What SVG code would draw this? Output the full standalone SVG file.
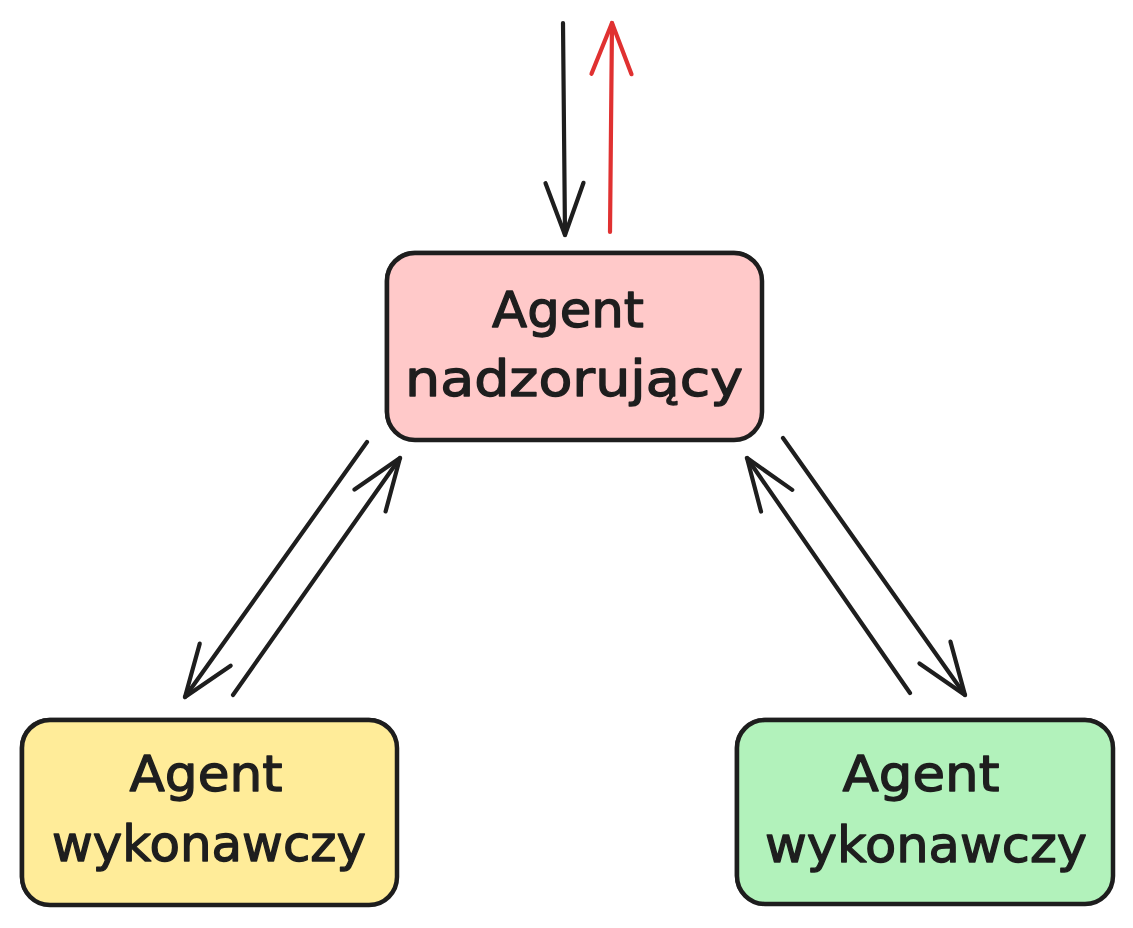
<svg xmlns="http://www.w3.org/2000/svg" width="1133" height="928" viewBox="0 0 1133 928">
  <defs>
    <style>
      .box { stroke: #1e1e1e; stroke-width: 4.5; }
      .box2 { fill: none; stroke: #1e1e1e; stroke-width: 1.6; opacity: 0.8; }
      .lbl { font-family: "DejaVu Sans", "Liberation Sans", sans-serif; font-size: 50px; fill: #1e1e1e; stroke: #1e1e1e; stroke-width: 1.3; stroke-linejoin: round; text-anchor: middle; }
      .conn { fill: none; stroke-width: 4.2; stroke-linecap: round; stroke-linejoin: round; }
      .blk { stroke: #1e1e1e; }
      .red { stroke: #e03131; }
    </style>
    <marker id="ahBlack" markerUnits="userSpaceOnUse" viewBox="-60 -26 66 52" markerWidth="66" markerHeight="52" refX="0" refY="0" orient="auto" overflow="visible">
      <path d="M-52,-19 L0,0 L-52,19" fill="none" stroke="#1e1e1e" stroke-width="4.2" stroke-linecap="round" stroke-linejoin="round"/>
    </marker>
    <marker id="ahRed" markerUnits="userSpaceOnUse" viewBox="-60 -26 66 52" markerWidth="66" markerHeight="52" refX="0" refY="0" orient="auto" overflow="visible">
      <path d="M-51,-20 L0,0 L-51,20" fill="none" stroke="#e03131" stroke-width="4.2" stroke-linecap="round" stroke-linejoin="round"/>
    </marker>
  </defs>

  <rect x="0" y="0" width="1133" height="928" fill="#ffffff"/>

  <g id="connectors">
    <path class="conn blk" d="M563,23 L565,235" marker-end="url(#ahBlack)"/>
    <path class="conn red" d="M610,232 L612,23" marker-end="url(#ahRed)"/>
    <path class="conn blk" d="M367,442 L185,697" marker-end="url(#ahBlack)"/>
    <path class="conn blk" d="M233,695 L400,458" marker-end="url(#ahBlack)"/>
    <path class="conn blk" d="M910,693 L747,458" marker-end="url(#ahBlack)"/>
    <path class="conn blk" d="M783,438 L965,695" marker-end="url(#ahBlack)"/>
  </g>

  <g id="node-supervisor">
    <rect class="box" x="387" y="253" width="375" height="187" rx="28" ry="28" fill="#ffc9c9"/>
    <rect class="box2" x="385.5" y="251.5" width="377" height="189" rx="29" ry="29"/>
    <text class="lbl" x="568" y="327" textLength="152" lengthAdjust="spacingAndGlyphs">Agent</text>
    <text class="lbl" x="574" y="396" textLength="338" lengthAdjust="spacingAndGlyphs">nadzorujący</text>
  </g>

  <g id="node-worker-left">
    <rect class="box" x="22" y="720" width="375" height="185" rx="28" ry="28" fill="#ffec99"/>
    <rect class="box2" x="20.5" y="718.5" width="377" height="187" rx="29" ry="29"/>
    <text class="lbl" x="206" y="791" textLength="153" lengthAdjust="spacingAndGlyphs">Agent</text>
    <text class="lbl" x="209" y="861" textLength="314" lengthAdjust="spacingAndGlyphs">wykonawczy</text>
  </g>

  <g id="node-worker-right">
    <rect class="box" x="737" y="720" width="376" height="184" rx="28" ry="28" fill="#b2f2bb"/>
    <rect class="box2" x="735.5" y="718.5" width="378" height="186" rx="29" ry="29"/>
    <text class="lbl" x="921" y="791" textLength="157" lengthAdjust="spacingAndGlyphs">Agent</text>
    <text class="lbl" x="926" y="862" textLength="322" lengthAdjust="spacingAndGlyphs">wykonawczy</text>
  </g>
</svg>
